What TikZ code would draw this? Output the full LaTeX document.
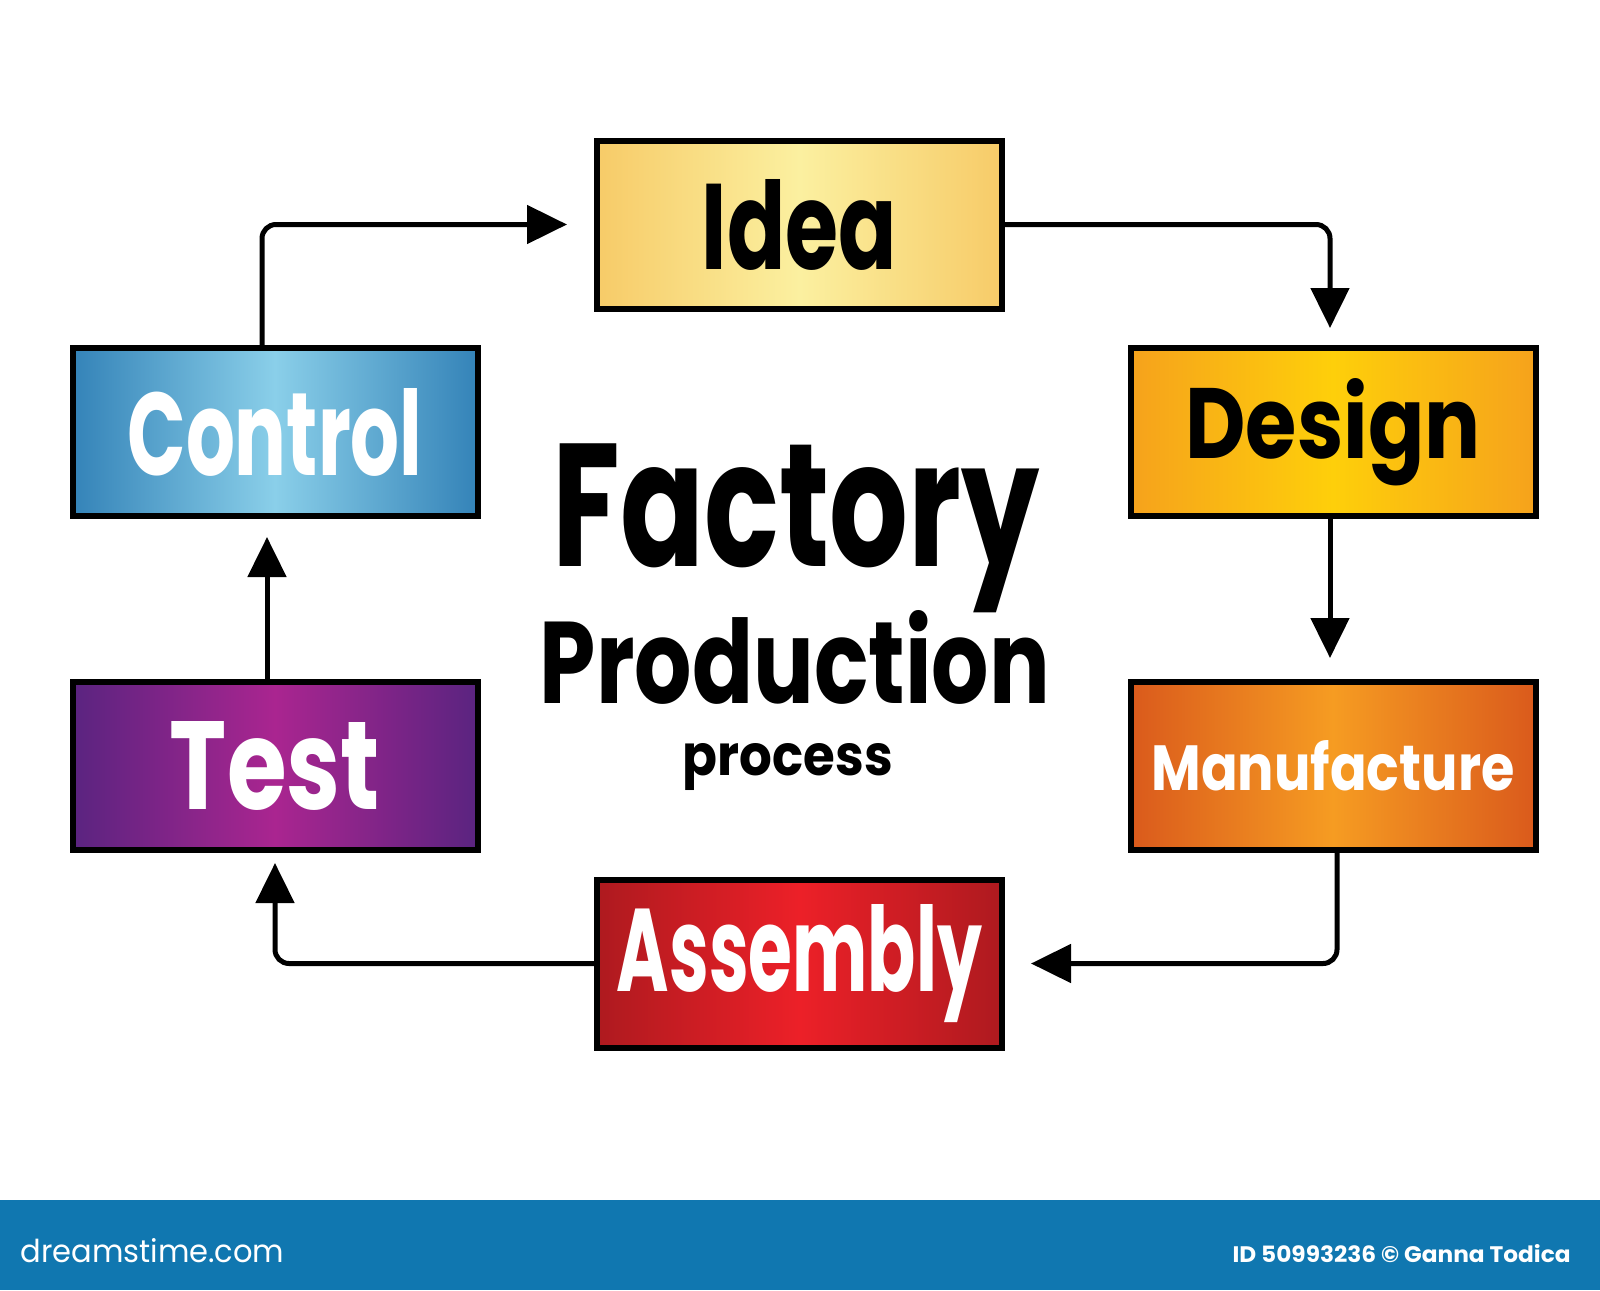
\documentclass[tikz,border=0pt]{standalone}
\usepackage{fontspec}
\setmainfont{Poppins}
\usepackage{graphicx}
\usetikzlibrary{arrows.meta,calc}
\definecolor{ideaE}{HTML}{F7CB68}
\definecolor{ideaC}{HTML}{FBF0A0}
\definecolor{desE}{HTML}{F6A21C}
\definecolor{desC}{HTML}{FECF0A}
\definecolor{manE}{HTML}{DA5A1C}
\definecolor{manC}{HTML}{F69C22}
\definecolor{asmE}{HTML}{AE1A1F}
\definecolor{asmC}{HTML}{EC2028}
\definecolor{tstE}{HTML}{5A2480}
\definecolor{tstC}{HTML}{AA2590}
\definecolor{ctlE}{HTML}{3483B8}
\definecolor{ctlC}{HTML}{8ACFE9}
\definecolor{barblue}{HTML}{1077B0}
\tikzset{
  stepbox/.style={draw=black, line width=3pt, minimum width=202.5pt, minimum height=84pt, inner sep=0pt},
  conn/.style={line width=2.5pt, rounded corners=7pt, -{Triangle[length=20pt,width=19pt]}},
  dark/.style={text=black},
  light/.style={text=white},
  title/.style={inner sep=0pt, text=black},
}
\begin{document}
\begin{tikzpicture}[x=0.5pt,y=-0.5pt]
\useasboundingbox (0,0) rectangle (1600,1290);
\fill[white] (0,0) rectangle (1600,1290);

% boxes
\node[stepbox, dark, left color=ideaE, right color=ideaE, middle color=ideaC] (idea) at (799.5,224.5)
  {\resizebox{97.5pt}{45pt}{\bfseries Idea}};
\node[stepbox, dark, left color=desE, right color=desE, middle color=desC] (design) at (1333,432)
  {\resizebox{147.5pt}{40pt}{\bfseries Design}};
\node[stepbox, light, left color=manE, right color=manE, middle color=manC] (manu) at (1333,766)
  {\resizebox{181.5pt}{25pt}{\bfseries Manufacture}};
\node[stepbox, light, left color=asmE, right color=asmE, middle color=asmC] (asm) at (799.5,963.5)
  {\resizebox{182.5pt}{43.5pt}{\bfseries Assembly}};
\node[stepbox, light, left color=tstE, right color=tstE, middle color=tstC] (test) at (275,766)
  {\resizebox{105pt}{44pt}{\bfseries Test}};
\node[stepbox, light, left color=ctlE, right color=ctlE, middle color=ctlC] (control) at (275,432)
  {\resizebox{147.5pt}{43.5pt}{\bfseries Control}};

% title
\node[title, anchor=north] (t1) at (796.5,443) {\resizebox*{243.5pt}{84.5pt}{\bfseries Factory}};
\node[title, anchor=base] (t2) at (795,703) {\resizebox{255pt}{46.5pt}{\bfseries Production}};
\node[title, anchor=base] (t3) at (788,775) {\resizebox{105pt}{16pt}{\bfseries process}};

% connectors
\draw[conn] ([xshift=-6.5pt]control.north) |- ([xshift=-13.5pt]idea.west);
\draw[conn] (idea.east) -| ([xshift=-1.5pt,yshift=8.5pt]design.north);
\draw[conn] ([xshift=-1.5pt]design.south) -- ([xshift=-1.5pt,yshift=10.5pt]manu.north);
\draw[conn] ([xshift=2pt]manu.south) |- ([xshift=13pt]asm.east);
\draw[conn] (asm.west) -| ([yshift=-5pt]test.south);
\draw[conn] ([xshift=-4pt]test.north) -- ([xshift=-4pt,yshift=-9pt]control.south);

% bottom bar
\fill[barblue] (0,1200) rectangle (1600,1290);
\node[anchor=base west, inner sep=0pt, text=white] (logo) at (20,1262) {\resizebox{132pt}{12pt}{dreamstime.com}};
\node[anchor=base east, inner sep=0pt, text=white] (credit) at (1571,1262) {\resizebox{169pt}{9pt}{\bfseries ID 50993236 © Ganna Todica}};
\end{tikzpicture}
\end{document}
